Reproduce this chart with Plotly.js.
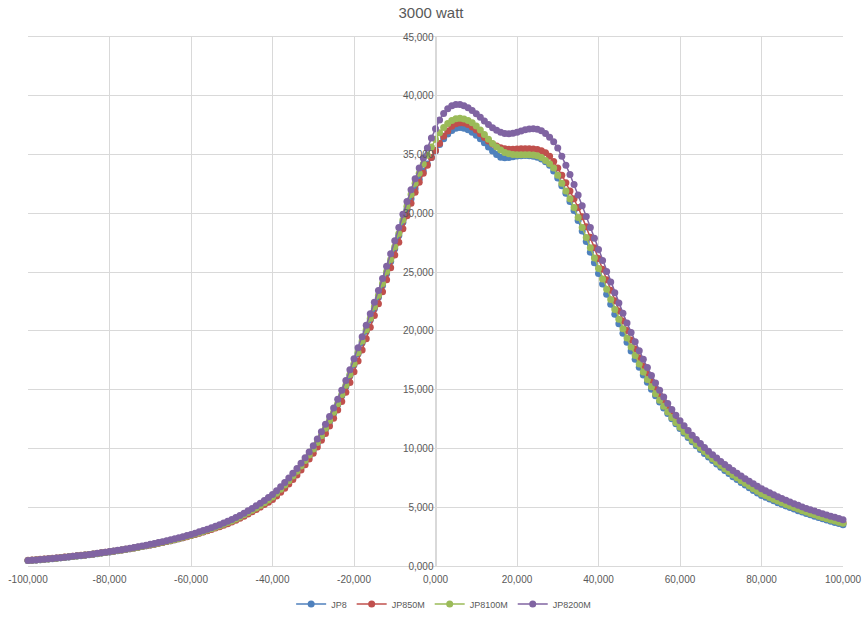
<!DOCTYPE html>
<html>
<head>
<meta charset="utf-8">
<script src="https://cdn.plot.ly/plotly-3.0.1.min.js"></script>
<style>html,body{margin:0;padding:0;background:#fff;}#chart{width:862px;height:617px;}</style>
</head>
<body>
<div id="chart"></div>
<script>
var xValues = [-100000,-99000,-98000,-97000,-96000,-95000,-94000,-93000,-92000,-91000,-90000,-89000,-88000,-87000,-86000,-85000,-84000,-83000,-82000,-81000,-80000,-79000,-78000,-77000,-76000,-75000,-74000,-73000,-72000,-71000,-70000,-69000,-68000,-67000,-66000,-65000,-64000,-63000,-62000,-61000,-60000,-59000,-58000,-57000,-56000,-55000,-54000,-53000,-52000,-51000,-50000,-49000,-48000,-47000,-46000,-45000,-44000,-43000,-42000,-41000,-40000,-39000,-38000,-37000,-36000,-35000,-34000,-33000,-32000,-31000,-30000,-29000,-28000,-27000,-26000,-25000,-24000,-23000,-22000,-21000,-20000,-19000,-18000,-17000,-16000,-15000,-14000,-13000,-12000,-11000,-10000,-9000,-8000,-7000,-6000,-5000,-4000,-3000,-2000,-1000,0,1000,2000,3000,4000,5000,6000,7000,8000,9000,10000,11000,12000,13000,14000,15000,16000,17000,18000,19000,20000,21000,22000,23000,24000,25000,26000,27000,28000,29000,30000,31000,32000,33000,34000,35000,36000,37000,38000,39000,40000,41000,42000,43000,44000,45000,46000,47000,48000,49000,50000,51000,52000,53000,54000,55000,56000,57000,58000,59000,60000,61000,62000,63000,64000,65000,66000,67000,68000,69000,70000,71000,72000,73000,74000,75000,76000,77000,78000,79000,80000,81000,82000,83000,84000,85000,86000,87000,88000,89000,90000,91000,92000,93000,94000,95000,96000,97000,98000,99000,100000];

var jp8 = [460,484,510,537,565,595,626,660,695,731,770,
805,841,879,919,961,1005,1050,1098,1148,1200,
1249,1300,1353,1408,1466,1525,1588,1652,1720,1790,
1858,1929,2002,2078,2157,2239,2324,2412,2504,2600,
2700,2805,2913,3026,3143,3265,3391,3522,3658,3800,
3965,4135,4312,4497,4690,4892,5102,5322,5553,5800,
6117,6452,6805,7177,7570,7984,8420,8881,9367,9880,
10420,11000,11620,12280,12980,13720,14480,15260,16180,17110,
18050,19000,19960,20920,21890,22870,23860,24870,25900,26990,
28110,29250,30350,31250,32100,32900,33600,34200,34750,35300,
35850,36350,36750,37050,37230,37300,37230,37100,36900,36650,
36350,36000,35650,35300,35000,34780,34720,34760,34820,34870,
34900,34910,34900,34860,34780,34620,34380,34080,33600,33000,
32350,31700,31000,30250,29400,28500,27600,26700,25800,24880,
23990,23120,22260,21420,20600,19800,19030,18290,17580,16900,
16250,15630,15040,14480,13950,13450,12980,12530,12100,11690,
11300,10930,10570,10230,9900,9580,9270,8970,8680,8400,
8130,7860,7600,7350,7110,6880,6650,6430,6210,6000,
5840,5690,5540,5390,5250,5110,4970,4840,4710,4590,
4470,4350,4240,4130,4020,3910,3810,3710,3610,3510];

var jp850m = [490,514,540,567,595,625,656,689,723,758,795,
830,866,904,943,984,1027,1071,1118,1166,1217,
1265,1315,1367,1421,1477,1535,1596,1659,1725,1793,
1860,1930,2002,2077,2155,2235,2318,2405,2494,2587,
2684,2784,2888,2996,3108,3224,3345,3470,3600,3735,
3895,4062,4236,4418,4607,4805,5011,5226,5420,5650,
5950,6270,6610,6970,7350,7750,8170,8620,9100,9600,
10130,10690,11280,11900,12560,13260,14000,14770,15620,16520,
17440,18380,19340,20320,21310,22310,23320,24340,25380,26450,
27550,28680,29800,30850,31800,32650,33400,34100,34750,35350,
35950,36550,37000,37400,37620,37700,37680,37560,37350,37080,
36780,36450,36150,35900,35720,35580,35500,35460,35460,35470,
35490,35500,35500,35480,35430,35330,35150,34850,34400,33850,
33250,32600,31900,31250,30500,29700,28850,27970,27070,26160,
25250,24350,23450,22570,21700,20850,20030,19230,18450,17720,
17020,16350,15710,15100,14520,13970,13450,12960,12500,12060,
11650,11260,10890,10540,10200,9870,9550,9240,8940,8650,
8370,8100,7840,7590,7340,7100,6870,6650,6430,6220,
6050,5890,5730,5580,5430,5290,5150,5010,4880,4750,
4630,4510,4390,4280,4170,4060,3960,3860,3760,3670];

var jp8100m = [465,489,515,542,571,601,633,666,702,739,778,
813,850,888,928,971,1015,1061,1109,1159,1212,
1262,1313,1367,1422,1481,1541,1604,1669,1737,1808,
1877,1948,2022,2099,2179,2261,2347,2436,2529,2626,
2727,2833,2942,3056,3174,3298,3425,3557,3695,3838,
4005,4177,4356,4542,4737,4941,5153,5375,5608,5860,
6180,6520,6880,7260,7650,8070,8510,8970,9450,9960,
10510,11090,11710,12370,13070,13810,14580,15370,16290,17220,
18170,19130,20100,21070,22050,23040,24040,25050,26080,27160,
28280,29430,30600,31600,32550,33400,34200,34950,35650,36300,
36850,37300,37650,37900,38050,38080,38020,37900,37700,37420,
37080,36700,36300,35950,35650,35380,35180,35060,35000,34980,
34980,34990,34990,34970,34900,34740,34500,34220,33850,33250,
32550,31900,31250,30500,29650,28800,27940,27070,26190,25300,
24410,23540,22680,21830,21000,20180,19400,18640,17900,17190,
16510,15860,15240,14650,14100,13580,13090,12630,12200,11800,
11420,11050,10700,10360,10040,9730,9420,9120,8830,8550,
8280,8010,7750,7500,7260,7030,6800,6580,6360,6150,
5990,5830,5680,5530,5380,5240,5100,4970,4840,4710,
4590,4470,4350,4240,4130,4020,3920,3820,3720,3630];

var jp8200m = [470,495,521,549,578,609,641,675,711,749,788,
825,862,901,942,985,1030,1077,1126,1178,1232,
1283,1336,1391,1448,1508,1570,1635,1702,1772,1845,
1916,1990,2066,2146,2228,2314,2403,2495,2590,2690,
2795,2904,3017,3135,3258,3386,3519,3657,3800,3950,
4124,4305,4495,4693,4899,5115,5340,5575,5820,6080,
6404,6745,7105,7484,7883,8303,8745,9211,9702,10220,
10800,11410,12050,12720,13430,14180,14960,15770,16690,17620,
18560,19510,20480,21450,22440,23440,24450,25490,26560,27670,
28800,29930,31000,32000,32950,33850,34700,35550,36400,37200,
37950,38500,38900,39150,39250,39250,39150,38980,38750,38480,
38180,37860,37550,37280,37060,36900,36800,36780,36820,36900,
37000,37100,37170,37200,37150,37020,36800,36480,36080,35550,
34850,34100,33300,32450,31550,30650,29730,28800,27870,26930,
25990,25060,24150,23250,22370,21510,20670,19860,19070,18310,
17580,16880,16210,15570,14960,14380,13830,13310,12820,12360,
11930,11520,11130,10760,10410,10080,9770,9470,9180,8900,
8630,8370,8120,7880,7650,7420,7200,6990,6780,6580,
6400,6230,6060,5900,5740,5590,5440,5300,5160,5020,
4900,4780,4670,4560,4450,4340,4240,4140,4040,3940];

var seriesNames = ["JP8", "JP850M", "JP8100M", "JP8200M"];
var seriesColors = ["#4F81BD", "#C0504D", "#9BBB59", "#8064A2"];
var seriesData = [jp8, jp850m, jp8100m, jp8200m];

var xTickVals = [-100000,-80000,-60000,-40000,-20000,0,20000,40000,60000,80000,100000];
var xTickText = ["-100,000","-80,000","-60,000","-40,000","-20,000","0,000","20,000","40,000","60,000","80,000","100,000"];
var yTickVals = [0,5000,10000,15000,20000,25000,30000,35000,40000,45000];
var yTickText = ["0,000","5,000","10,000","15,000","20,000","25,000","30,000","35,000","40,000","45,000"];

var traces = seriesData.map(function (ys, i) {
  return {
    type: "scatter",
    mode: "lines+markers",
    name: seriesNames[i],
    x: xValues,
    y: ys,
    cliponaxis: false,
    line: {color: seriesColors[i], width: 1.5},
    marker: {color: seriesColors[i], size: 7, symbol: "circle"}
  };
});

var fontFam = "Liberation Sans, Arial, sans-serif";
var layout = {
  width: 862,
  height: 617,
  paper_bgcolor: "#ffffff",
  plot_bgcolor: "#ffffff",
  margin: {l: 28, r: 19, t: 37, b: 51, autoexpand: false},
  title: {
    text: "3000 watt",
    font: {family: fontFam, size: 15, color: "#595959"},
    x: 0.5, xanchor: "center",
    y: 1 - 13 / 617, yanchor: "middle", yref: "container"
  },
  showlegend: true,
  legend: {
    orientation: "h",
    x: 0.51, xanchor: "center",
    y: -0.072, yanchor: "middle",
    font: {family: fontFam, size: 9, color: "#595959"},
    itemwidth: 30,
    bgcolor: "rgba(0,0,0,0)"
  },
  xaxis: {
    range: [-100000, 100000],
    tickmode: "array",
    tickvals: xTickVals,
    ticktext: xTickText,
    showgrid: true,
    gridcolor: "#d9d9d9",
    gridwidth: 1,
    zeroline: false,
    showline: true,
    linecolor: "#d9d9d9",
    linewidth: 1,
    mirror: true,
    ticks: "",
    ticklabelstandoff: 4,
    tickfont: {family: fontFam, size: 10, color: "#595959"},
    fixedrange: true
  },
  yaxis: {
    range: [0, 45000],
    anchor: "free",
    position: 0.5,
    tickmode: "array",
    tickvals: yTickVals,
    ticktext: yTickText,
    showgrid: true,
    gridcolor: "#d9d9d9",
    gridwidth: 1,
    zeroline: false,
    showline: true,
    linecolor: "#d9d9d9",
    linewidth: 1,
    ticks: "",
    tickfont: {family: fontFam, size: 10, color: "#595959"},
    fixedrange: true
  }
};

Plotly.newPlot("chart", traces, layout, {displayModeBar: false, staticPlot: true});
</script>
</body>
</html>
